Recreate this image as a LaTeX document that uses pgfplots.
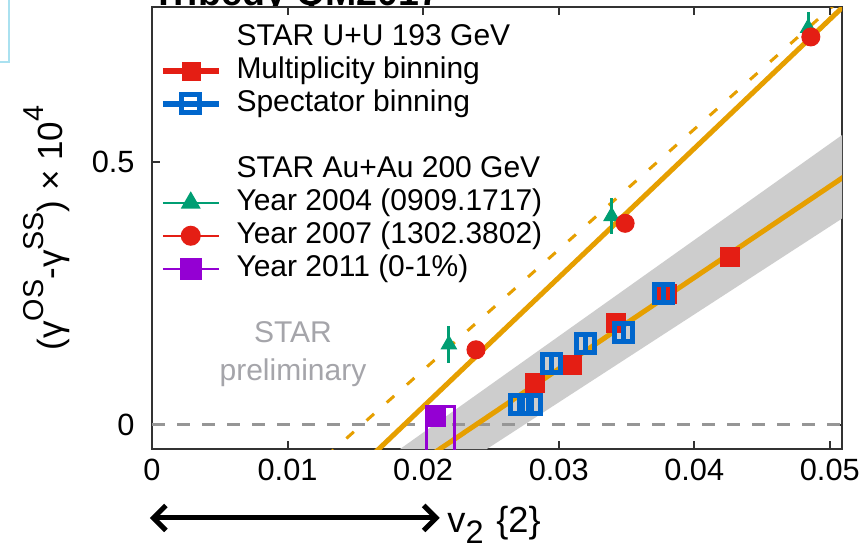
\documentclass[border=0pt]{standalone}
\usepackage{fontspec}
\setmainfont{Liberation Sans}
\usepackage{pgfplots}
\pgfplotsset{compat=1.18}
\usetikzlibrary{arrows.meta}
\definecolor{cred}{HTML}{E41E14}
\definecolor{cblue}{HTML}{0066CC}
\definecolor{cgreen}{HTML}{009E73}
\definecolor{cpurp}{HTML}{9400D3}
\definecolor{corange}{HTML}{E69F00}
\definecolor{czero}{RGB}{150,150,150}
\definecolor{cband}{RGB}{205,205,205}
\definecolor{cprelim}{RGB}{165,165,170}
\definecolor{caxis}{RGB}{50,50,50}
\definecolor{ccyan}{RGB}{170,225,240}
\newcommand{\sups}[1]{\raisebox{1.0ex}{\fontsize{11.5}{12}\selectfont #1}}
\begin{document}
\begin{tikzpicture}
\fontsize{12}{13}\selectfont
\node[anchor=base west, inner sep=0pt, font=\fontsize{15}{16}\selectfont\bfseries] at (0pt,177.2pt) {Tribedy QM2017};
\begin{axis}[
  scale only axis, width=276pt, height=176.8pt,
  xmin=0, xmax=0.0509, ymin=-0.046, ymax=0.796,
  axis background/.style={fill=white},
  axis line style={caxis, line width=0.8pt},
  scaled x ticks=false, scaled y ticks=false,
  xtick={0,0.01,0.02,0.03,0.04,0.05},
  xticklabels={0,0.01,0.02,0.03,0.04,0.05},
  ytick={0,0.5}, yticklabels={0,0.5},
  tick style={caxis, line width=0.8pt}, major tick length=3.2pt,
  /pgf/number format/assume math mode=true,
  tick label style={font=\fontsize{12.3}{13}\selectfont},
  yticklabel style={xshift=-2.8pt},
  xlabel={v\raisebox{-0.6ex}{\fontsize{13}{14}\selectfont 2}\hspace{0.35em}\{2\}},
  xlabel style={at={(rel axis cs:0.4275,-0.188)}, anchor=base west, inner sep=0pt, font=\fontsize{14.5}{15}\selectfont},
  ylabel={(γ\sups{OS}-γ\sups{SS}) × 10\sups{4}},
  ylabel style={at={(rel axis cs:-0.1188,0.5)}, anchor=south, inner sep=0pt, font=\fontsize{14}{15}\selectfont},
  legend image code/.code={\draw[mark repeat=2, mark phase=2, #1] plot coordinates {(0pt,0pt) (11.2pt,0pt) (22.4pt,0pt)};},
  legend cell align=left,
  legend style={draw=none, fill=none, inner sep=0pt, outer sep=0pt,
    at={(rel axis cs:0,1)}, anchor=north west, xshift=3pt, yshift=-5.7pt,
    font=\fontsize{12}{13}\selectfont,
    nodes={inner sep=0pt, text height=9.5pt, text depth=3.7pt},
    row sep=0pt,
    /tikz/every odd column/.append style={column sep=5.8pt}},
]
\addlegendimage{empty legend}\addlegendentry{STAR U+U 193 GeV}
\addlegendimage{cred, line width=2.6pt, mark=square*, mark size=3.6pt, mark options={line width=0.2pt}}\addlegendentry{Multiplicity binning}
\addlegendimage{legend image code/.code={
  \draw[cblue, line width=2.6pt] (0pt,0pt) -- (22.4pt,0pt);
  \draw[cblue, line width=2pt, fill=white] (7.6pt,-3.6pt) rectangle (14.8pt,3.6pt);
  \draw[cblue, line width=2.4pt] (7.6pt,0pt) -- (14.8pt,0pt);}}\addlegendentry{Spectator binning}
\addlegendimage{empty legend}\addlegendentry{}
\addlegendimage{empty legend}\addlegendentry{STAR Au+Au 200 GeV}
\addlegendimage{cgreen, line width=1pt, mark=triangle*, mark size=3.6pt}\addlegendentry{Year 2004 (0909.1717)}
\addlegendimage{cred, line width=1pt, mark=*, mark size=3.5pt}\addlegendentry{Year 2007 (1302.3802)}
\addlegendimage{cpurp, line width=1pt, mark=square*, mark size=3.8pt}\addlegendentry{Year 2011 (0-1\%)}

% systematic band around the U+U fit
\addplot[fill=cband, draw=none, forget plot] coordinates {(0.0183,-0.046) (0.0509,0.552) (0.0509,0.393) (0.0247,-0.046)} -- cycle;
% zero line
\addplot[czero, line width=1.2pt, dash pattern=on 5.2pt off 4.8pt, forget plot] coordinates {(0,0) (0.0509,0)};
% fits
\addplot[corange, line width=1.2pt, dash pattern=on 4pt off 6.8pt, forget plot] coordinates {(0.01285,-0.06) (0.052,0.8386)};
\addplot[corange, line width=2pt, forget plot] coordinates {(0.01616,-0.06) (0.052,0.8216)};
\addplot[corange, line width=2pt, forget plot] coordinates {(0.02043,-0.06) (0.052,0.4893)};
% Year 2011 box and point
\addplot[cpurp, line width=1.2pt, forget plot] coordinates {(0.02028,-0.07) (0.02028,0.0344) (0.02235,0.0344) (0.02235,-0.07)};
\addplot[cpurp, only marks, mark=square*, mark size=3.8pt, forget plot] coordinates {(0.02097,0.0153)};
% Year 2004
\addplot[cgreen, only marks, mark=triangle*, mark size=3.5pt, forget plot,
  error bars/.cd, y dir=both, y explicit, error bar style={line width=1.2pt}, error mark=none]
  coordinates {(0.0219,0.153) +- (0,0.036) (0.0339,0.3975) +- (0,0.034) (0.0484,0.756) +- (0,0.03)};
% Year 2007
\addplot[cred, only marks, mark=*, mark size=3.6pt, forget plot] coordinates {(0.0239,0.143) (0.0349,0.384) (0.0486,0.739)};
% U+U multiplicity binning
\addplot[cred, only marks, mark=square*, mark size=3.8pt, mark options={line width=0.2pt}, forget plot]
  coordinates {(0.0282,0.080) (0.0310,0.114) (0.0342,0.195) (0.0380,0.250) (0.0426,0.321)};
% U+U spectator binning
\addplot[cblue, only marks, mark=square, mark size=3.6pt, line width=2pt, forget plot]
  coordinates {(0.0271,0.038) (0.0280,0.038) (0.0295,0.116) (0.0320,0.155) (0.0348,0.176) (0.0377,0.250)};
\addplot[cblue, only marks, mark=|, mark size=3.6pt, line width=2pt, forget plot]
  coordinates {(0.0271,0.038) (0.0280,0.038) (0.0295,0.116) (0.0320,0.155) (0.0348,0.176) (0.0377,0.250)};

\node[cprelim, anchor=base, inner sep=0pt] at (axis cs:0.0104,0.1565) {STAR};
\node[cprelim, anchor=base, inner sep=0pt] at (axis cs:0.0104,0.084) {preliminary};

\coordinate (BL) at (rel axis cs:0,0);
\coordinate (TR) at (rel axis cs:1,1);
\coordinate (TL) at (rel axis cs:0,1);
\coordinate (A1) at (rel axis cs:-0.003,-0.156);
\coordinate (A2) at (rel axis cs:0.417,-0.156);
\end{axis}
\draw[{Straight Barb[length=5pt,width=10pt]}-{Straight Barb[length=5pt,width=10pt]}, line width=2pt] (A1) -- (A2);
\draw[ccyan, line width=0.8pt] ([xshift=-60.8pt,yshift=-22pt]TL) -- ([xshift=-57.2pt,yshift=-22pt]TL) -- ([xshift=-57.2pt,yshift=3pt]TL);
\pgfresetboundingbox
\path[use as bounding box] ([xshift=-60.8pt,yshift=-42.8pt]BL) rectangle ([xshift=9.6pt,yshift=2.8pt]TR);
\end{tikzpicture}
\end{document}
